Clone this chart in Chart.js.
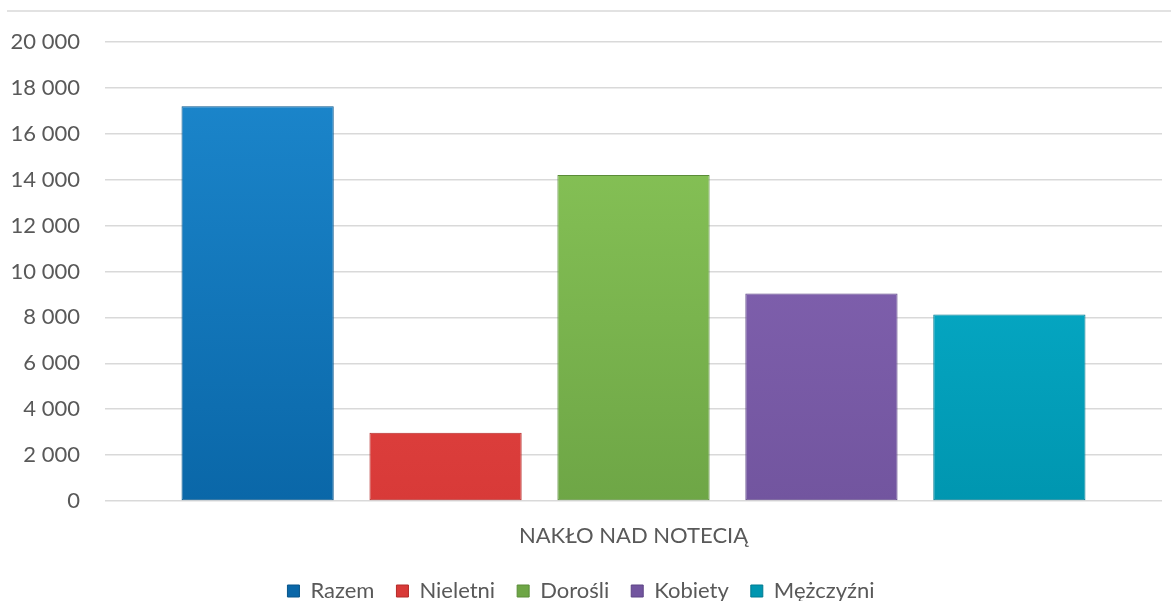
<!DOCTYPE html>
<html>
<head>
<meta charset="utf-8">
<script src="https://cdn.jsdelivr.net/npm/chart.js@4.4.1/dist/chart.umd.min.js"></script>
<style>
  html, body { margin: 0; padding: 0; background: #fff; }
  #wrap { width: 1171px; height: 601px; }
</style>
</head>
<body>
<div id="wrap"><canvas id="myChart" width="1171" height="601"></canvas></div>
<script>
// data
const categories = ["NAKŁO NAD NOTECIĄ"];
const seriesNames = ["Razem", "Nieletni", "Dorośli", "Kobiety", "Mężczyźni"];
const razem = [17200];
const nieletni = [2970];
const dorosli = [14200];
const kobiety = [9040];
const mezczyzni = [8130];
const yTicks = [0, 2000, 4000, 6000, 8000, 10000, 12000, 14000, 16000, 18000, 20000];

// light top / dark bottom for each series
const topColors = ["#1d89cf", "#ee504d", "#8cc95a", "#8a69b9", "#0bbad8"];
const bottomColors = ["#0a67a8", "#d83a38", "#6ea646", "#72559f", "#0096b0"];
const edgeColors = ["#08558a", "#b42a28", "#5a8c38", "#5d4585", "#007a90"];

function makeGrad(i) {
  return function (context) {
    const chart = context.chart;
    const area = chart.chartArea;
    if (!area) return topColors[i];
    const g = chart.ctx.createLinearGradient(0, area.top, 0, area.bottom);
    g.addColorStop(0, topColors[i]);
    g.addColorStop(1, bottomColors[i]);
    return g;
  };
}

const allSeries = [razem, nieletni, dorosli, kobiety, mezczyzni];
const datasets = seriesNames.map(function (name, i) {
  return {
    label: name,
    data: allSeries[i],
    backgroundColor: makeGrad(i),
    borderColor: edgeColors[i],
    borderWidth: 1,
    borderSkipped: false,
  };
});

// thin frame line at the very top of the picture
const topLine = {
  id: "topLine",
  beforeDraw(chart) {
    const ctx = chart.ctx;
    ctx.save();
    ctx.strokeStyle = "#d9d9d9";
    ctx.lineWidth = 1.5;
    ctx.beginPath();
    ctx.moveTo(7, 11);
    ctx.lineTo(chart.width, 11);
    ctx.stroke();
    ctx.restore();
  },
};

const fontFamily = "Lato, 'Open Sans', sans-serif";

new Chart(document.getElementById("myChart"), {
  type: "bar",
  data: { labels: categories, datasets: datasets },
  plugins: [topLine],
  options: {
    responsive: false,
    animation: false,
    layout: { padding: { top: 42, right: 9, left: 0, bottom: -11 } },
    datasets: {
      bar: { categoryPercentage: 0.889, barPercentage: 0.81 },
    },
    scales: {
      x: {
        afterFit(scale) { scale.height = 57; },
        grid: { display: false },
        border: { display: false },
        ticks: {
          color: "#595959",
          padding: 14,
          font: { family: fontFamily, size: 22 },
        },
      },
      y: {
        min: 0,
        max: 20000,
        afterFit(scale) { scale.width = 105; },
        afterBuildTicks(scale) {
          scale.ticks = yTicks.map(function (v) { return { value: v }; });
        },
        grid: { color: "#d9d9d9", lineWidth: 1.5, drawTicks: false },
        border: { display: false },
        ticks: {
          color: "#595959",
          padding: 25,
          font: { family: fontFamily, size: 22 },
          callback: function (v) {
            return v.toString().replace(/\B(?=(\d{3})+(?!\d))/g, " ");
          },
        },
      },
    },
    plugins: {
      legend: {
        position: "bottom",
        labels: {
          color: "#595959",
          boxWidth: 12,
          boxHeight: 12,
          padding: 22,
          font: { family: fontFamily, size: 22 },
        },
      },
      tooltip: { enabled: false },
    },
  },
});
</script>
</body>
</html>
